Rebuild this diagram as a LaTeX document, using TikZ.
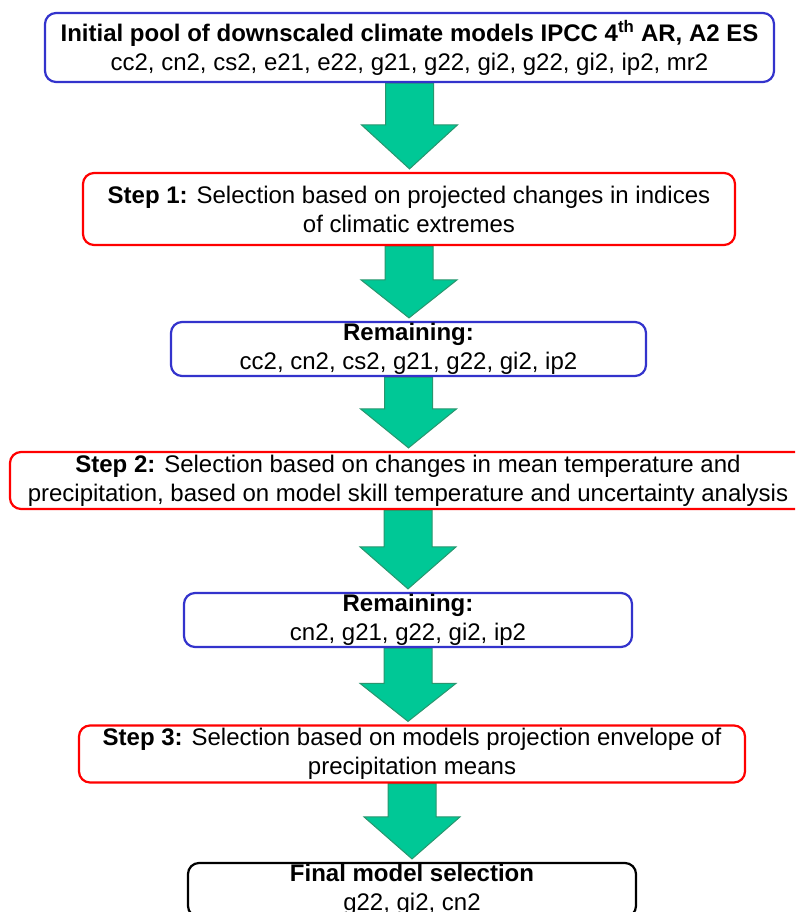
\documentclass[tikz,border=0pt]{standalone}
\usepackage{fontspec}
\setmainfont{Liberation Sans}
\usetikzlibrary{calc,backgrounds}
\definecolor{boxblue}{RGB}{51,51,204}
\definecolor{boxred}{RGB}{255,0,0}
\definecolor{arrfill}{RGB}{0,200,150}
\definecolor{arrdraw}{RGB}{40,150,110}
\tikzset{
  flowbox/.style={rectangle, rounded corners=11pt, fill=white, line width=2.2pt,
    inner sep=0pt, align=center, font=\fontsize{24}{29}\selectfont},
  poolbox/.style={flowbox, draw=boxblue},
  stepbox/.style={flowbox, draw=boxred},
  finalbox/.style={flowbox, draw=black},
  barrow/.style={fill=arrfill, draw=arrdraw, line width=1pt, line join=miter},
}
% #1 upper node, #2 lower node, #3 head length
\newcommand\blockarrow[3]{%
  \draw[barrow] let \p1=(#1.south), \p2=(#2.north) in
    (\x1-24,\y1) -- (\x1-24,\y2+3+#3) -- (\x1-48,\y2+3+#3) -- (\x1,\y2+3)
    -- (\x1+48,\y2+3+#3) -- (\x1+24,\y2+3+#3) -- (\x1+24,\y1) -- cycle;}
\begin{document}
\begin{tikzpicture}[x=1pt,y=-1pt]
\useasboundingbox (0,0) rectangle (795,912);
\clip (0,0) rectangle (795,912);
\node[poolbox, minimum width=729pt, minimum height=69pt] (pool) at (409.5,47.5)
  {\textbf{Initial pool of downscaled climate models IPCC 4\textsuperscript{th} AR, A2 ES}\\
   cc2, cn2, cs2, e21, e22, g21, g22, gi2, g22, gi2, ip2, mr2};
\node[stepbox, minimum width=652pt, minimum height=72pt] (s1) at (409,209)
  {\textbf{Step 1:} Selection based on projected changes in indices\\ of climatic extremes};
\node[poolbox, minimum width=475pt, minimum height=54pt] (r1) at (408.5,349)
  {\textbf{Remaining:}\\ cc2, cn2, cs2, g21, g22, gi2, ip2};
\node[stepbox, minimum width=796pt, minimum height=57pt] (s2) at (408,480.5)
  {\textbf{Step 2:} Selection based on changes in mean temperature and\\
   precipitation, based on model skill temperature and uncertainty analysis};
\node[poolbox, minimum width=448pt, minimum height=54pt] (r2) at (408,620)
  {\textbf{Remaining:}\\ cn2, g21, g22, gi2, ip2};
\node[stepbox, minimum width=666pt, minimum height=57pt] (s3) at (412,754)
  {\textbf{Step 3:} Selection based on models projection envelope of\\ precipitation means};
\node[finalbox, minimum width=448pt, minimum height=54pt] (fin) at (412,890)
  {\textbf{Final model selection}\\ g22, gi2, cn2};
\begin{scope}[on background layer]
\blockarrow{pool}{s1}{44}
\blockarrow{s1}{r1}{38}
\blockarrow{r1}{s2}{39}
\blockarrow{s2}{r2}{42}
\blockarrow{r2}{s3}{38}
\blockarrow{s3}{fin}{42}
\end{scope}
\end{tikzpicture}
\end{document}
